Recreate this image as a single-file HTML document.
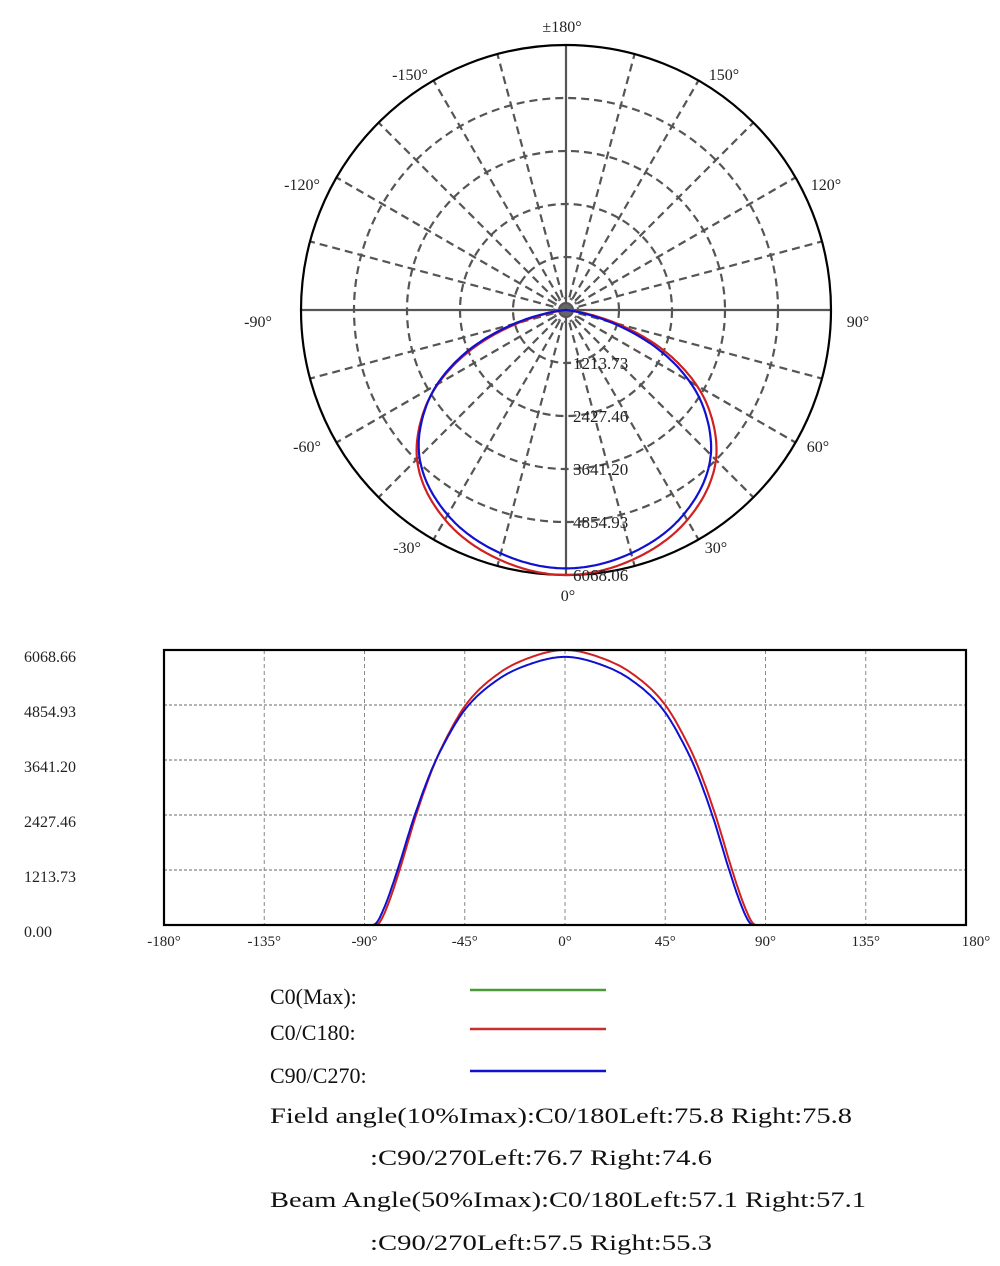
<!DOCTYPE html>
<html><head><meta charset="utf-8"><style>
html,body{margin:0;padding:0;background:#fff;}
svg{display:block;font-family:"Liberation Serif",serif;}
</style></head><body>
<svg id="s" width="1000" height="1266" viewBox="0 0 1000 1266" xmlns="http://www.w3.org/2000/svg">
<g id="polar"></g>
<g id="cart"></g>
<g font-size="22" fill="#111">
<text x="270" y="1004">C0(Max):</text>
<text x="270" y="1040">C0/C180:</text>
<text x="270" y="1083">C90/C270:</text>
<text x="270" y="1123" textLength="582" lengthAdjust="spacingAndGlyphs">Field angle(10%Imax):C0/180Left:75.8 Right:75.8</text>
<text x="370" y="1165" textLength="342" lengthAdjust="spacingAndGlyphs">:C90/270Left:76.7 Right:74.6</text>
<text x="270" y="1207" textLength="596" lengthAdjust="spacingAndGlyphs">Beam Angle(50%Imax):C0/180Left:57.1 Right:57.1</text>
<text x="370" y="1250" textLength="342" lengthAdjust="spacingAndGlyphs">:C90/270Left:57.5 Right:55.3</text>
</g>
<line x1="470" y1="990" x2="606" y2="990" stroke="#4a9a3a" stroke-width="2.5"/>
<line x1="470" y1="1029" x2="606" y2="1029" stroke="#c83030" stroke-width="2.5"/>
<line x1="470" y1="1071" x2="606" y2="1071" stroke="#1010d0" stroke-width="2.5"/>
</svg>
<script>
var NS="http://www.w3.org/2000/svg";
function el(p,t,a,txt){var e=document.createElementNS(NS,t);for(var k in a)e.setAttribute(k,a[k]);if(txt!=null)e.textContent=txt;p.appendChild(e);return e;}
var X0=[0,15,30,45,55,60,67.5,75,80,84,86],Y0=[1,0.975,0.915,0.80,0.66,0.57,0.40,0.20,0.08,0.01,0];
var n=X0.length,dl=[],m=[];
for(var i=0;i<n-1;i++)dl.push((Y0[i+1]-Y0[i])/(X0[i+1]-X0[i]));
m[0]=0;for(var i=1;i<n-1;i++){m[i]=(dl[i-1]*dl[i]<=0)?0:(dl[i-1]+dl[i])/2;}m[n-1]=0;
for(var i=0;i<n-1;i++){if(dl[i]==0){m[i]=m[i+1]=0;continue;}var a=m[i]/dl[i],b=m[i+1]/dl[i],s=a*a+b*b;if(s>9){var t=3/Math.sqrt(s);m[i]=t*a*dl[i];m[i+1]=t*b*dl[i];}}
function f(a){a=Math.abs(a);if(a>=86)return 0;for(var i=0;i<n-1;i++){if(a<=X0[i+1]){var h=X0[i+1]-X0[i],t=(a-X0[i])/h;var h00=2*t*t*t-3*t*t+1,h10=t*t*t-2*t*t+t,h01=-2*t*t*t+3*t*t,h11=t*t*t-t*t;return Math.max(0,h00*Y0[i]+h10*h*m[i]+h01*Y0[i+1]+h11*h*m[i+1]);}}return 0;}
function red(a){return f(a*(a>0?1.0:1.01));}
function blue(a){return 0.975*f(a*(a>0?1.015:0.995));}
var P=document.getElementById('polar'),cx=566,cy=310,R=265;
for(var k=1;k<=4;k++)el(P,'circle',{cx:cx,cy:cy,r:53*k,fill:'none',stroke:'#555','stroke-width':2.2,'stroke-dasharray':'8 5'});
el(P,'circle',{cx:cx,cy:cy,r:12,fill:'none',stroke:'#666','stroke-width':2,'stroke-dasharray':'3 3'});
for(var d=0;d<360;d+=15){var r=d*Math.PI/180;var x2=cx+R*Math.sin(r),y2=cy+R*Math.cos(r);
 if(d%90==0)el(P,'line',{x1:cx,y1:cy,x2:x2,y2:y2,stroke:'#555','stroke-width':2.2});
 else el(P,'line',{x1:cx,y1:cy,x2:x2,y2:y2,stroke:'#555','stroke-width':2.2,'stroke-dasharray':'8 5'});}
el(P,'circle',{cx:cx,cy:cy,r:R,fill:'none',stroke:'#000','stroke-width':2.2});
el(P,'circle',{cx:cx,cy:cy,r:6,fill:'#666'});
function polarPath(fn){var s='';for(var a=-180;a<=180;a+=0.5){var v=fn(a)*R,r=a*Math.PI/180;var x=cx+v*Math.sin(r),y=cy+v*Math.cos(r);s+=(s?'L':'M')+x.toFixed(1)+' '+y.toFixed(1);}return s;}
el(P,'path',{d:polarPath(red),fill:'none',stroke:'#d02020','stroke-width':2.2});
el(P,'path',{d:polarPath(blue),fill:'none',stroke:'#1010d0','stroke-width':2.2});
var lab=[['±180°',562,32],['-150°',410,80],['150°',724,80],['-120°',302,190],['120°',826,190],['-90°',258,327],['90°',858,327],['-60°',307,452],['60°',818,452],['-30°',407,553],['30°',716,553],['0°',568,601]];
lab.forEach(function(l){el(P,'text',{x:l[1],y:l[2],'font-size':16,'text-anchor':'middle',fill:'#222'},l[0]);});
var rv=['1213.73','2427.46','3641.20','4854.93','6068.06'];
rv.forEach(function(t,i){el(P,'text',{x:573,y:cy+53*(i+1)+6,'font-size':17,fill:'#222'},t);});
var C=document.getElementById('cart'),L=164,Rr=966,T=650,B=925;
function X(a){return L+(a+180)/360*(Rr-L);}
for(var a=-135;a<=135;a+=45)el(C,'line',{x1:X(a),y1:T,x2:X(a),y2:B,stroke:'#888','stroke-width':1,'stroke-dasharray':'4 3'});
for(var i=1;i<5;i++){var y=B-(B-T)*i/5;el(C,'line',{x1:L,y1:y,x2:Rr,y2:y,stroke:'#888','stroke-width':1.2,'stroke-dasharray':'3 2'});}
function cp(fn){var s='';for(var a=-180;a<=180;a+=0.5){var y=B-fn(a)*(B-T);s+=(s?'L':'M')+X(a).toFixed(1)+' '+y.toFixed(1);}return s;}
el(C,'path',{d:cp(red),fill:'none',stroke:'#d02020','stroke-width':2});
el(C,'path',{d:cp(blue),fill:'none',stroke:'#1010d0','stroke-width':2});
el(C,'rect',{x:L,y:T,width:Rr-L,height:B-T,fill:'none',stroke:'#000','stroke-width':2.2});
var yl=['0.00','1213.73','2427.46','3641.20','4854.93','6068.66'];
yl.forEach(function(t,i){el(C,'text',{x:24,y:B-(B-T)*i/5+12,'font-size':16,fill:'#222'},t);});
for(var a=-180;a<=180;a+=45)el(C,'text',{x:X(a)+(a==180?10:0),y:946,'font-size':15,'text-anchor':'middle',fill:'#222'},a+'°');
</script>
</body></html>
